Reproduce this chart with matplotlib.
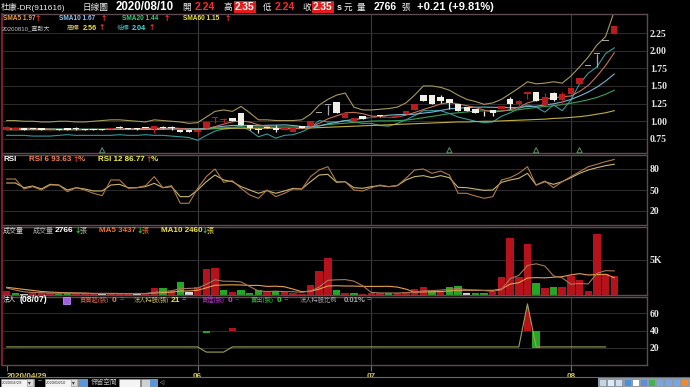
import numpy as np
import matplotlib
matplotlib.use("Agg")
import matplotlib.pyplot as plt
from matplotlib.patches import Polygon, Rectangle
from matplotlib.transforms import blended_transform_factory

plt.rcParams['font.family'] = ['Liberation Sans', 'Noto Sans CJK TC', 'DejaVu Sans']
plt.rcParams['axes.unicode_minus'] = False

W, H = 690, 387

# ---------------- data ----------------
# daily candles 2020/04/29 .. 2020/08/10
opens = [0.88, 0.88, 0.90, 0.91, 0.91, 0.87, 0.88, 0.91, 0.89, 0.885,
         0.89, 0.89, 0.89, 0.92, 0.895, 0.89, 0.91, 0.89, 0.92, 0.91,
         0.88, 0.87, 0.85, 0.91, 1.05, 1.02, 1.05, 1.11, 0.95, 0.89,
         0.92, 0.91, 0.87, 0.85, 0.93, 0.93, 1.12, 1.23, 1.27, 1.04,
         1.01, 1.07, 1.04, 1.07, 1.04, 1.06, 1.10, 1.16, 1.37, 1.37,
         1.35, 1.32, 1.24, 1.20, 1.17, 1.11, 1.16, 1.17, 1.32, 1.24,
         1.39, 1.41, 1.23, 1.40, 1.30, 1.39, 1.53, 1.78, 1.95, 2.14, 2.24]
highs = [0.93, 0.92, 0.91, 0.91, 0.91, 0.88, 0.89, 0.91, 0.92, 0.885,
         0.89, 0.89, 0.91, 0.93, 0.90, 0.90, 0.91, 0.93, 0.93, 0.93,
         0.88, 0.87, 0.87, 0.99, 1.06, 1.05, 1.05, 1.11, 0.95, 0.91,
         0.92, 0.94, 0.91, 0.90, 0.93, 1.01, 1.12, 1.23, 1.27, 1.12,
         1.05, 1.07, 1.06, 1.08, 1.06, 1.09, 1.15, 1.25, 1.37, 1.37,
         1.37, 1.32, 1.24, 1.20, 1.17, 1.15, 1.16, 1.22, 1.35, 1.30,
         1.42, 1.41, 1.40, 1.42, 1.41, 1.47, 1.61, 1.78, 1.95, 2.14, 2.35]
lows = [0.87, 0.87, 0.88, 0.89, 0.88, 0.86, 0.88, 0.88, 0.87, 0.88,
        0.88, 0.88, 0.89, 0.90, 0.89, 0.88, 0.90, 0.83, 0.90, 0.87,
        0.85, 0.85, 0.79, 0.91, 0.97, 0.96, 1.01, 0.94, 0.88, 0.83,
        0.91, 0.85, 0.87, 0.85, 0.91, 0.93, 1.12, 1.09, 1.11, 1.04,
        1.01, 1.03, 1.04, 1.06, 1.04, 1.06, 1.10, 1.16, 1.28, 1.25,
        1.26, 1.18, 1.15, 1.15, 1.12, 1.08, 1.07, 1.17, 1.18, 1.20,
        1.32, 1.29, 1.23, 1.28, 1.25, 1.39, 1.53, 1.78, 1.77, 2.14, 2.24]
closes = [0.92, 0.91, 0.88, 0.89, 0.88, 0.88, 0.88, 0.88, 0.89, 0.88,
          0.88, 0.88, 0.91, 0.90, 0.89, 0.89, 0.90, 0.93, 0.90, 0.91,
          0.85, 0.85, 0.87, 0.99, 1.06, 1.03, 1.01, 0.94, 0.90, 0.87,
          0.91, 0.87, 0.91, 0.90, 0.91, 1.01, 1.12, 1.23, 1.11, 1.12,
          1.05, 1.03, 1.06, 1.07, 1.06, 1.09, 1.15, 1.25, 1.28, 1.25,
          1.29, 1.26, 1.15, 1.15, 1.12, 1.11, 1.12, 1.22, 1.25, 1.29,
          1.42, 1.29, 1.35, 1.30, 1.38, 1.47, 1.61, 1.78, 1.95, 2.14, 2.35]
# r = red candle, w = white candle, g = grey (one-price day)
candle_kind = list("rrwwwrwwww" "wwrwwwwrww" "wwrrrrwwww" "wwrrwrggwr"
                   "rwrwrrrrww" "wwwwwwwrwr" "rwrwrrrgggr")

sma5 = [0.90, 0.90, 0.90, 0.90, 0.896, 0.888, 0.882, 0.882, 0.882, 0.882,
        0.882, 0.882, 0.888, 0.89, 0.892, 0.894, 0.898, 0.902, 0.902, 0.906,
        0.898, 0.888, 0.876, 0.894, 0.924, 0.96, 0.992, 1.006, 0.988, 0.95,
        0.926, 0.898, 0.892, 0.892, 0.90, 0.92, 0.97, 1.034, 1.076, 1.118,
        1.126, 1.108, 1.074, 1.066, 1.054, 1.062, 1.086, 1.124, 1.166, 1.204,
        1.244, 1.266, 1.246, 1.22, 1.194, 1.158, 1.13, 1.144, 1.164, 1.198,
        1.26, 1.294, 1.32, 1.33, 1.348, 1.358, 1.422, 1.508, 1.638, 1.79, 1.97]
sma10 = [0.89, 0.89, 0.89, 0.89, 0.89, 0.888, 0.887, 0.886, 0.886, 0.885,
         0.885, 0.882, 0.885, 0.886, 0.887, 0.888, 0.89, 0.895, 0.896, 0.899,
         0.896, 0.893, 0.889, 0.898, 0.915, 0.929, 0.94, 0.941, 0.941, 0.937,
         0.943, 0.945, 0.949, 0.94, 0.925, 0.923, 0.934, 0.963, 0.984, 1.009,
         1.023, 1.039, 1.054, 1.071, 1.086, 1.094, 1.097, 1.099, 1.116, 1.129,
         1.153, 1.176, 1.185, 1.193, 1.199, 1.201, 1.198, 1.195, 1.192, 1.196,
         1.209, 1.212, 1.232, 1.247, 1.273, 1.309, 1.358, 1.414, 1.484, 1.569, 1.67]
sma20 = [0.89, 0.89, 0.89, 0.89, 0.89, 0.89, 0.89, 0.89, 0.888, 0.888,
         0.887, 0.886, 0.887, 0.888, 0.888, 0.889, 0.89, 0.892, 0.893, 0.894,
         0.89, 0.888, 0.887, 0.892, 0.901, 0.908, 0.915, 0.918, 0.918, 0.918,
         0.92, 0.919, 0.919, 0.919, 0.92, 0.926, 0.937, 0.952, 0.963, 0.973,
         0.983, 0.992, 1.002, 1.006, 1.006, 1.009, 1.016, 1.031, 1.05, 1.069,
         1.088, 1.108, 1.12, 1.132, 1.143, 1.148, 1.148, 1.147, 1.154, 1.163,
         1.181, 1.194, 1.209, 1.22, 1.236, 1.255, 1.278, 1.305, 1.338, 1.383, 1.44]
sma60 = [0.88, 0.88, 0.88, 0.88, 0.88, 0.88, 0.88, 0.88, 0.88, 0.88,
         0.885, 0.885, 0.885, 0.885, 0.885, 0.885, 0.885, 0.885, 0.885, 0.89,
         0.89, 0.89, 0.89, 0.89, 0.895, 0.895, 0.90, 0.90, 0.90, 0.90,
         0.90, 0.90, 0.90, 0.90, 0.90, 0.905, 0.91, 0.915, 0.92, 0.925,
         0.93, 0.935, 0.94, 0.945, 0.95, 0.955, 0.96, 0.965, 0.97, 0.975,
         0.98, 0.985, 0.99, 0.99, 0.995, 1.0, 1.0, 1.005, 1.01, 1.015,
         1.02, 1.025, 1.03, 1.04, 1.045, 1.055, 1.065, 1.08, 1.10, 1.12, 1.15]
band_hi = [1.01, 1.01, 1.00, 1.00, 0.99, 0.99, 1.00, 1.00, 0.99, 0.99,
           1.00, 1.01, 1.02, 1.02, 1.01, 1.00, 0.99, 1.02, 1.01, 1.00,
           0.99, 0.97, 0.98, 1.06, 1.14, 1.16, 1.14, 1.21, 1.12, 1.02,
           1.02, 1.01, 1.01, 1.01, 1.02, 1.10, 1.23, 1.31, 1.37, 1.40,
           1.20, 1.16, 1.16, 1.17, 1.18, 1.20, 1.26, 1.37, 1.50, 1.50,
           1.48, 1.44, 1.37, 1.31, 1.28, 1.24, 1.26, 1.31, 1.39, 1.47,
           1.56, 1.53, 1.54, 1.56, 1.54, 1.64, 1.77, 1.91, 2.08, 2.20, 2.56]
band_lo = [0.80, 0.80, 0.80, 0.79, 0.79, 0.79, 0.80, 0.81, 0.80, 0.80,
           0.80, 0.80, 0.80, 0.81, 0.80, 0.80, 0.81, 0.80, 0.80, 0.79,
           0.78, 0.77, 0.73, 0.80, 0.86, 0.89, 0.90, 0.93, 0.87, 0.78,
           0.82, 0.76, 0.80, 0.81, 0.85, 0.91, 1.01, 0.99, 0.99, 1.01,
           0.99, 0.97, 0.97, 0.94, 0.93, 0.97, 1.02, 1.08, 1.15, 1.15,
           1.15, 1.11, 1.06, 1.03, 1.00, 0.98, 0.99, 1.07, 1.12, 1.18,
           1.23, 1.20, 1.13, 1.23, 1.15, 1.30, 1.53, 1.68, 1.77, 1.96, 2.04]
event_idx = [11, 51, 61, 66]

rsi6 = [65.7, 65.7, 51.4, 54.8, 50.0, 57.1, 57.1, 47.6, 53.3, 50.0,
        45.3, 41.9, 64.3, 64.3, 52.4, 53.3, 56.2, 69.1, 53.3, 56.2,
        31.0, 31.0, 52.4, 69.1, 80.0, 61.0, 63.3, 52.4, 42.9, 38.1,
        50.0, 40.5, 45.3, 51.4, 51.4, 69.1, 78.6, 83.3, 61.9, 61.9,
        50.0, 48.6, 53.3, 57.1, 54.8, 56.2, 66.7, 78.6, 80.0, 73.8,
        77.1, 71.4, 45.3, 45.3, 41.4, 38.1, 40.5, 64.3, 67.6, 73.8,
        83.3, 57.1, 62.9, 53.3, 61.9, 69.1, 76.2, 83.3, 86.7, 90.5, 93.63]
rsi12 = [60.0, 60.0, 53.3, 55.7, 51.4, 58.1, 57.1, 50.0, 53.3, 51.4,
         48.6, 48.6, 57.1, 58.1, 53.3, 53.3, 54.8, 59.5, 53.3, 54.8,
         40.5, 40.5, 50.0, 61.9, 71.4, 64.3, 61.9, 54.8, 50.0, 45.3,
         49.1, 45.3, 48.6, 52.4, 51.4, 61.9, 71.4, 72.4, 61.0, 61.9,
         53.3, 52.4, 54.8, 56.2, 54.8, 56.2, 64.3, 69.1, 70.5, 67.6,
         70.5, 67.6, 53.8, 53.3, 51.4, 49.5, 50.0, 61.0, 64.3, 66.7,
         73.8, 57.1, 61.9, 58.1, 61.9, 67.6, 73.8, 78.6, 81.9, 84.8, 86.77]

volume = [620, 300, 180, 290, 290, 280, 200, 290, 150, 150,
          170, 280, 200, 160, 180, 300, 200, 950, 950, 620,
          1810, 380, 1190, 3640, 3830, 770, 380, 720, 290, 720,
          380, 620, 380, 290, 190, 1380, 3390, 5220, 660, 330,
          290, 190, 330, 330, 290, 290, 430, 800, 1090, 520,
          620, 1090, 1330, 240, 290, 230, 470, 2530, 8190, 2530,
          7330, 1670, 950, 1190, 1090, 2770, 2200, 620, 8760, 3020, 2766]
vol_kind = list("rgwrrrggrr" "rwrrrwrrgr" "gwrrrgrggg" "rgrrrrrrgr"
                "grrrgrrrrg" "rggwggrrrr" "rgrgrrrrrrr")
vol_ma5 = [1000, 700, 450, 360, 336, 268, 248, 270, 242, 214,
           192, 208, 190, 192, 198, 224, 208, 358, 516, 604,
           906, 942, 990, 1528, 2170, 1962, 1962, 1868, 1198, 576,
           498, 546, 478, 478, 372, 572, 1126, 2094, 2168, 2196,
           1978, 1338, 360, 294, 286, 286, 334, 428, 580, 626,
           692, 824, 930, 760, 714, 636, 512, 752, 2342, 2790,
           4210, 4450, 4134, 2734, 2446, 1534, 1640, 1574, 3088, 3474, 3437]
vol_ma10 = [1100, 950, 800, 650, 500, 420, 360, 320, 290, 275,
            230, 228, 230, 217, 206, 208, 208, 274, 354, 401,
            565, 575, 674, 1022, 1387, 1434, 1452, 1429, 1363, 1373,
            1230, 1254, 1173, 838, 474, 535, 836, 1286, 1323, 1284,
            1275, 1232, 1227, 1231, 1241, 1132, 836, 394, 437, 456,
            489, 579, 679, 670, 670, 664, 668, 841, 1551, 1752,
            2423, 2481, 2443, 2538, 2618, 2872, 3045, 2854, 2911, 2960, 2460]

# institutional holdings (last value 08/07)
inst_hold = [21, 21, 21, 21, 21, 21, 21, 21, 21, 21,
             21, 21, 21, 21, 21, 21, 21, 21, 21, 21,
             21, 21, 21, 15, 15, 15, 21, 21, 21, 21,
             21, 21, 21, 21, 21, 21, 21, 21, 21, 21,
             21, 21, 21, 21, 21, 21, 21, 21, 21, 21,
             21, 21, 21, 21, 21, 21, 21, 21, 21, 21,
             71, 21, 21, 21, 21, 21, 21, 21, 21, 21, np.nan]
net_idx = [23, 26, 60, 61]
net_val = [-3, 3, 40, -20]
NET_BASE = 40

month_idx = [22, 42, 65]
date_idx = [0, 22, 42, 65]
date_labels = ['2020/04/29', '06', '07', '08']

price_ticks = [0.75, 1.00, 1.25, 1.50, 1.75, 2.00, 2.25]
rsi_ticks = [20, 50, 80]
vol_ticks = [5000]
inst_ticks = [20, 40, 60]

# ---------------- figure ----------------
fig = plt.figure(figsize=(W / 100, H / 100), dpi=100, facecolor='black')
x = np.arange(len(closes))


def panel(top, bottom):
    ax = fig.add_axes([2 / W, 1 - bottom / H, 645 / W, (bottom - top) / H])
    ax.set_facecolor('black')
    ax.set_xlim(-0.54, 73.77)
    for s in ax.spines.values():
        s.set_color('#5e4a52')
        s.set_linewidth(1.0)
    ax.spines['left'].set_color('#7a1c2c')
    ax.spines['left'].set_linewidth(1.6)
    ax.yaxis.tick_right()
    ax.tick_params(axis='y', length=0, pad=2, labelsize=7, labelcolor='#e6e6e6')
    ax.tick_params(axis='x', length=0, labelbottom=False)
    for m in month_idx:
        ax.axvline(m, color='#3a3a3a', lw=0.8, zorder=0)
    return ax


def yticks(ax, vals, labels):
    ax.set_yticks(vals)
    ax.set_yticklabels(labels, fontfamily='Liberation Serif', fontweight='bold')
    for v in vals:
        ax.axhline(v, color='#2e2e2e', lw=0.7, zorder=0)


def put(px, py, s, color, size=5, weight='normal', **kw):
    fig.text(px / W, 1 - py / H, s, color=color, fontsize=size,
             fontweight=weight, ha='left', va='center', **kw)


def arrow(px, py, s, color):
    put(px, py, s, color, 5.5, 'bold', family='DejaVu Sans')


def box(x0, y0, x1, y1, fc, ec='none'):
    fig.add_artist(Rectangle((x0 / W, 1 - y1 / H), (x1 - x0) / W, (y1 - y0) / H,
                             transform=fig.transFigure, fc=fc, ec=ec, lw=0.5))


# ---- price panel ----
ax1 = panel(14, 153)
ax1.set_ylim(0.55, 2.52)
yticks(ax1, price_ticks, ['%.2f' % v for v in price_ticks])

ax1.plot(x, band_hi, color='#a89a5a', lw=0.8, zorder=2)
ax1.plot(x, band_lo, color='#349a9a', lw=0.8, zorder=2)
ax1.plot(x, sma60, color='#c0b040', lw=0.8, zorder=2)
ax1.plot(x, sma20, color='#3aa05a', lw=0.8, zorder=2)
ax1.plot(x, sma10, color='#78b4d0', lw=0.8, zorder=2)
ax1.plot(x, sma5, color='#c8705a', lw=0.8, zorder=2)

ck = {'r': '#b81c1c', 'w': '#f0f0e8', 'g': '#a8a8a8'}
ccol = [ck[k] for k in candle_kind]
o = np.array(opens)
c = np.array(closes)
ax1.vlines(x, lows, highs, colors=ccol, lw=0.9, zorder=3)
ax1.bar(x, np.maximum(np.abs(c - o), 0.012), bottom=np.minimum(o, c),
        width=0.74, color=ccol, lw=0, zorder=4)

tr = blended_transform_factory(ax1.transData, ax1.transAxes)
ax1.scatter(event_idx, [0.02] * len(event_idx), marker='^', s=14,
            facecolors='none', edgecolors='#5a9070', lw=0.7,
            transform=tr, clip_on=False, zorder=5)

# ---- RSI panel ----
ax2 = panel(155, 225)
ax2.set_ylim(0, 100)
yticks(ax2, rsi_ticks, [str(v) for v in rsi_ticks])
ax2.plot(x, rsi12, color='#c8b870', lw=0.8)
ax2.plot(x, rsi6, color='#b07a48', lw=0.8)

# ---- volume panel ----
ax3 = panel(227, 295)
ax3.set_ylim(0, 9700)
yticks(ax3, vol_ticks, ['5K'])
vk = {'r': '#b5121b', 'g': '#22a822', 'w': '#dcdcdc'}
ax3.bar(x, volume, width=0.86, color=[vk[k] for k in vol_kind], lw=0, zorder=2)
ax3.plot(x, vol_ma10, color='#e8a050', lw=0.8, zorder=3)
ax3.plot(x, vol_ma5, color='#a87858', lw=0.8, zorder=3)

# ---- institutional panel ----
ax4 = panel(297, 365)
ax4.set_ylim(0, 79)
yticks(ax4, inst_ticks, [str(v) for v in inst_ticks])
hold = np.array(inst_hold, dtype=float)
ok = ~np.isnan(hold)
ax4.plot(x[ok], hold[ok], color='#a0a050', lw=0.8, zorder=3)
clip = Polygon(list(zip(x[ok], hold[ok])) + [(x[ok][-1], 0), (x[0], 0)],
               closed=True, fc='none', ec='none')
ax4.add_patch(clip)
for i, v in zip(net_idx, net_val):
    b = ax4.bar(i, v, bottom=NET_BASE, width=0.86,
                color='#b5121b' if v > 0 else '#22a822', lw=0, zorder=2)
    # a buy bar that reaches the holdings line is cut off by it
    if v > 0 and hold[i] > NET_BASE:
        b[0].set_clip_path(clip)

ax4.set_xticks(date_idx)
ax4.set_xticklabels(date_labels, fontsize=5.8, fontweight='bold', color='#d8c860')
ax4.tick_params(axis='x', length=4, color='#707070', pad=1.5, labelbottom=True)
ax4.get_xticklabels()[0].set_ha('left')

# ---------------- texts ----------------
wht = '#eeeeee'
red = '#ff2a2a'
up = '#ff3030'
dn = '#30d030'
hy = 7.2
put(1, hy, '杜康-DR(911616)', wht, 6)
put(83, hy, '日線圖', wht, 6.2)
put(116, hy, '2020/08/10', 'white', 8.3, 'bold')
put(182, hy, '開', wht, 6.2)
put(195, hy, '2.24', red, 7.5, 'bold')
put(223, hy, '高', wht, 6.2)
put(235, hy, '2.35', 'white', 7.3, 'bold',
    bbox=dict(boxstyle='square,pad=0.12', fc='#e31b1b', ec='none'))
put(263, hy, '低', wht, 6.2)
put(275, hy, '2.24', red, 7.5, 'bold')
put(302, hy, '收', wht, 6.2)
put(313, hy, '2.35', 'white', 7.3, 'bold',
    bbox=dict(boxstyle='square,pad=0.12', fc='#e31b1b', ec='none'))
put(337, hy, 's', wht, 6.5, 'bold')
put(344, hy, '元', wht, 6.2)
put(357, hy, '量', wht, 6.2)
put(374, hy, '2766', 'white', 7.5, 'bold')
put(401, hy, '張', wht, 6.2)
put(417, hy, '+0.21 (+9.81%)', 'white', 8, 'bold')

ry = 18.3
put(3, ry, 'SMA5 1.97', '#f0a040', 4.7, 'bold')
arrow(35, ry, '↑', up)
put(59, ry, 'SMA10 1.67', '#88c8f0', 4.7, 'bold')
arrow(101, ry, '↑', up)
put(122, ry, 'SMA20 1.44', '#3cd070', 4.7, 'bold')
arrow(164, ry, '↑', up)
put(183, ry, 'SMA60 1.15', '#e8e040', 4.7, 'bold')
arrow(225, ry, '↑', up)
ry = 28
put(2, ry, '20200810_寬鬆大', '#c8c8c8', 4.3)
put(67, ry, '高標', '#e0c858', 4.6)
put(83, ry, '2.56', '#f0e040', 5.2, 'bold')
arrow(98.5, ry, '↑', up)
put(117, ry, '低標', '#40b8b8', 4.6)
put(132, ry, '2.04', '#40e0e0', 5.2, 'bold')
arrow(148.5, ry, '↑', up)

ry = 159.7
put(3, ry, 'RSI', 'white', 5.8, 'bold')
put(29, ry, 'RSI 6 93.63', '#f08050', 5.8, 'bold')
arrow(72.5, ry, '↑', up)
put(77.5, ry, '%', '#f08050', 5.8, 'bold')
put(98, ry, 'RSI 12 86.77', '#f0f040', 5.8, 'bold')
arrow(146, ry, '↑', up)
put(151, ry, '%', '#f0f040', 5.8, 'bold')

ry = 231
put(3, ry, '成交量', '#d8d8d8', 5)
put(33, ry, '成交量', '#b8b8b8', 5)
put(55, ry, '2766', 'white', 6, 'bold')
arrow(74.5, ry, '↓', dn)
put(80, ry, '張', '#b8b8b8', 5)
put(99, ry, 'MA5 3437', '#f07830', 5.8, 'bold')
arrow(136.5, ry, '↓', dn)
put(142, ry, '張', '#f07830', 5)
put(161, ry, 'MA10 2460', '#f0e040', 5.8, 'bold')
arrow(201.5, ry, '↓', dn)
put(207, ry, '張', '#f0e040', 5)

ry = 300
put(3, ry, '法人', 'white', 4.8)
put(20, ry, '(08/07)', 'white', 6.3, 'bold')
box(63, 296.5, 70, 303.5, '#a060e0', '#d0a0ff')
put(80, ry, '買賣超(張)', '#e06a50', 4.5)
put(112, ry, '0', '#f08040', 6, 'bold')
put(120, ry, '=', '#e06a50', 5.5)
put(134, ry, '法人持股(張)', '#cfc060', 4.5)
put(171, ry, '21', '#f0e040', 6, 'bold')
put(182, ry, '=', '#cfc060', 5.5)
put(202, ry, '買進(張)', '#c030d0', 4.5)
put(228, ry, '0', '#d040e0', 6, 'bold')
put(235, ry, '=', '#c030d0', 5.5)
put(251, ry, '賣出(張)', '#40c040', 4.5)
put(277, ry, '0', '#40d040', 6, 'bold')
put(284, ry, '=', '#40c040', 5.5)
put(300, ry, '法人持股比例', '#a8a8a8', 4.5)
put(344, ry, '0.01%', '#a8a8a8', 5.6, 'bold')
put(367, ry, '=', '#a8a8a8', 5.5)

# ---------------- bottom toolbar ----------------
fig.add_artist(plt.Line2D([0, 1], [1 - 377 / H] * 2, color='#6a6a6a', lw=0.8,
                          transform=fig.transFigure))
box(1, 378.5, 34, 386.5, '#f2f2f2', '#9a9a9a')
put(2, 382.5, '2020/04/29', '#333333', 3.0)
box(27, 379, 33, 386, '#dcdcdc', '#9a9a9a')
put(28, 382.5, '▾', '#333333', 4, family='DejaVu Sans')
put(38, 382, '~', '#dddddd', 5)
box(45, 378.5, 78, 386.5, '#f2f2f2', '#9a9a9a')
put(46, 382.5, '2020/08/10', '#333333', 3.0)
box(71, 379, 77, 386, '#dcdcdc', '#9a9a9a')
put(72, 382.5, '▾', '#333333', 4, family='DejaVu Sans')
box(79, 378.5, 88, 386.5, '#5b95d5')
put(91, 382.5, '保留空間', '#bdbdbd', 4.8)
box(119, 378.5, 140, 386.5, '#f4f4f4', '#9a9a9a')
box(141, 378.5, 150, 386.5, '#d0d0d0', '#9a9a9a')
box(150, 378.5, 158, 386.5, '#5b95d5')
put(159, 382.5, '◁', '#dddddd', 4, family='DejaVu Sans')
box(598, 378, 690, 387, '#8e9aa8')
icon_cols = ['#c8d4e0', '#e0e8f0', '#d0dcea', '#4a90e0', '#ffffff', '#5c8fd8',
             '#46b04a', '#7aa6e0', '#7aa6e0', '#7aa6e0', '#f08a2a']
for k, col in enumerate(icon_cols):
    box(600 + k * 8.2, 379.5, 606 + k * 8.2, 385.5, col)

fig.savefig('out.png', dpi=100, facecolor='black')
